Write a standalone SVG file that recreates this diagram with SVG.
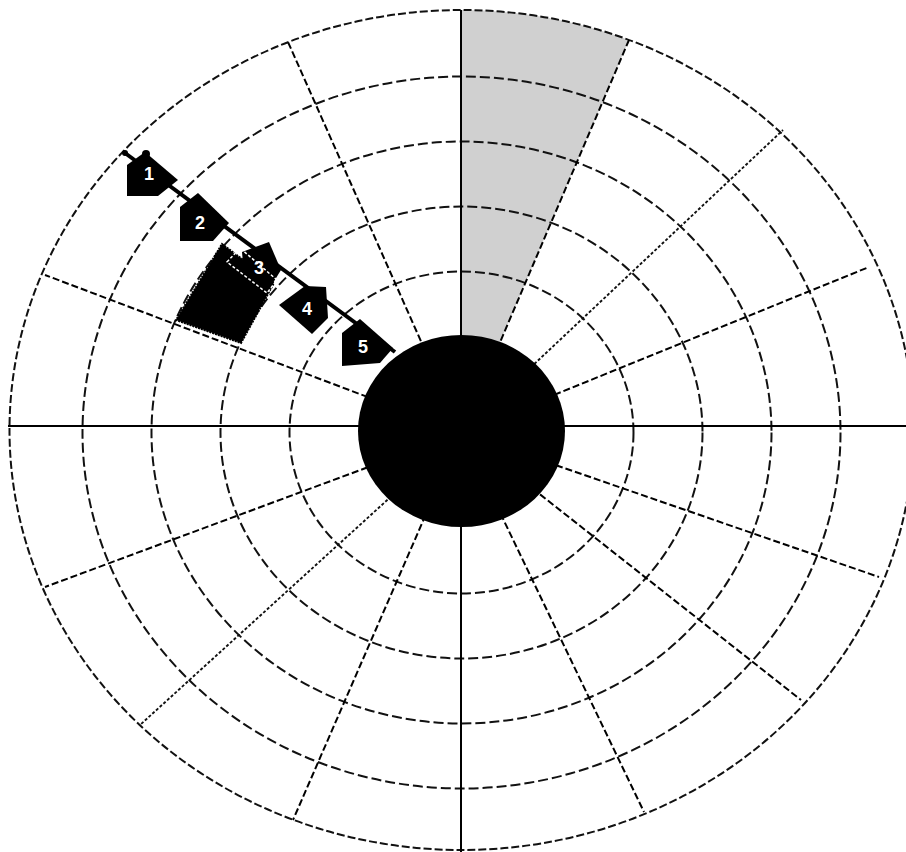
<svg xmlns="http://www.w3.org/2000/svg" width="906" height="852" viewBox="0 0 906 852">
<style>
.ring{fill:none;stroke:#111;stroke-width:2;stroke-dasharray:10 4}
.spoke{fill:none;stroke:#000;stroke-width:2;stroke-dasharray:7 3}
.fine{fill:none;stroke:#111;stroke-width:1.9;stroke-dasharray:3 2}
.axis{stroke:#000;stroke-width:2;fill:none}
.mk{fill:#000}
.lbl{fill:#fff;font-family:"Liberation Sans",Arial,sans-serif;font-weight:bold;font-size:18px;text-anchor:middle;dominant-baseline:central}
</style>
<rect width="906" height="852" fill="#fff"/>
<g id="wedge">
<path d="M461.5,432.5 L461.5,10 A452,420 0 0 1 629,40 Z" fill="#d0d0d0"/>
</g>
<g id="grid">
<ellipse class="ring" cx="461.5" cy="432.5" rx="172" ry="161"/>
<ellipse class="ring" cx="461.5" cy="432.5" rx="241" ry="226"/>
<ellipse class="ring" cx="461.5" cy="432.5" rx="310" ry="291"/>
<ellipse class="ring" cx="461.5" cy="432.5" rx="379" ry="356"/>
<ellipse class="ring" cx="461.5" cy="430" rx="452" ry="420" style="stroke-dasharray:8 3"/>
<line class="spoke" x1="461.5" y1="432.5" x2="629" y2="40"/>
<line class="fine" x1="461.5" y1="432.5" x2="783" y2="130"/>
<line class="spoke" x1="461.5" y1="432.5" x2="869" y2="267"/>
<line class="spoke" x1="461.5" y1="432.5" x2="288" y2="42"/>
<line class="spoke" x1="461.5" y1="432.5" x2="45" y2="275"/>
<line class="spoke" x1="461.5" y1="432.5" x2="45" y2="587"/>
<line class="fine" x1="461.5" y1="432.5" x2="140" y2="725"/>
<line class="spoke" x1="461.5" y1="432.5" x2="293" y2="820"/>
<line class="spoke" x1="461.5" y1="432.5" x2="644" y2="812"/>
<line class="spoke" x1="461.5" y1="432.5" x2="801" y2="700"/>
<line class="spoke" x1="461.5" y1="432.5" x2="879" y2="577"/>
<line class="axis" x1="8" y1="426" x2="906" y2="426"/>
<line class="axis" x1="461" y1="10" x2="461" y2="852"/>
</g>
<g id="disk">
<ellipse cx="461.5" cy="431" rx="103.5" ry="96" fill="#000"/>
</g>
<g id="block">
<polygon points="222,244 274,283 241,343 176,320" fill="#000" stroke="#000" stroke-width="2" stroke-dasharray="2 1"/>
</g>
<g id="connectors">
<line x1="125" y1="153" x2="395" y2="352" stroke="#000" stroke-width="4"/>
<circle cx="125" cy="153" r="3" fill="#000"/>
</g>
<g id="m1">
<polygon class="mk" points="127,165 145,152 178,180 158,196 127,196"/>
<circle cx="146" cy="154" r="4" fill="#000"/>
<text class="lbl" x="149" y="174">1</text>
</g>
<g id="m2">
<polygon class="mk" points="180,207 198,193 229,223 213,241 180,241"/>
<text class="lbl" x="200" y="223">2</text>
</g>
<g id="m3">
<polygon class="mk" points="242,252 269,242 281,270 268,291 245,285"/>
<polygon points="227,262 240,248 277,280 267,293" fill="none" stroke="#fff" stroke-width="1.5" stroke-dasharray="3 2"/>
<text class="lbl" x="259" y="268">3</text>
</g>
<g id="m4">
<polygon class="mk" points="279,305 305,286 326,287 328,318 312,334"/>
<text class="lbl" x="307" y="309">4</text>
</g>
<g id="m5">
<polygon class="mk" points="342,333 360,319 393,348 380,363 342,366"/>
<text class="lbl" x="363" y="347">5</text>
</g>
</svg>
